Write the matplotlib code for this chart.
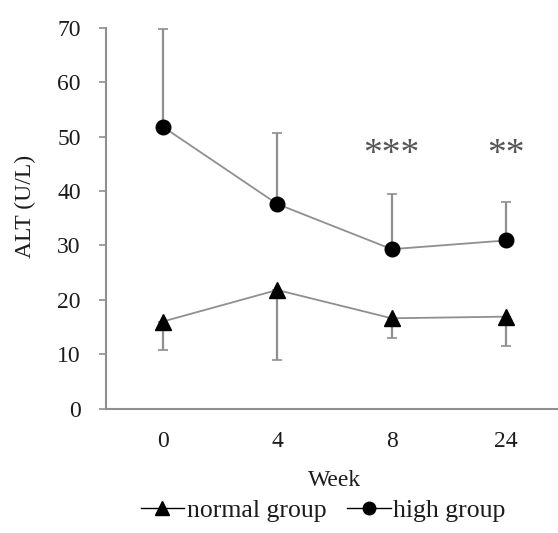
import matplotlib
matplotlib.use("Agg")
import matplotlib.pyplot as plt
from matplotlib.lines import Line2D

weeks = ["0", "4", "8", "24"]
normal_mean = [16.0, 21.8, 16.6, 16.9]
normal_lower = [10.8, 8.9, 12.9, 11.5]
high_mean = [51.8, 37.6, 29.3, 30.9]
high_upper = [69.7, 50.6, 39.4, 38.0]
sig_labels = ["", "", "***", "**"]
sig_y = 46.6

plt.rcParams['font.family'] = ['Liberation Serif', 'DejaVu Serif']
txt = '#1c1c1c'
gray = '#8f8f8f'

fig = plt.figure(figsize=(5.58, 5.33), dpi=100)
ax = fig.add_axes([0.1894, 0.2334, 0.82, 0.7146])
x = list(range(len(weeks)))

# error bars (one-sided)
n_err = [[m - l for m, l in zip(normal_mean, normal_lower)], [0] * len(x)]
h_err = [[0] * len(x), [u - m for m, u in zip(high_mean, high_upper)]]
ax.errorbar(x, normal_mean, yerr=n_err, fmt='none', ecolor=gray, elinewidth=1.6,
            capsize=3.5, capthick=1.2, zorder=2)
ax.errorbar(x, high_mean, yerr=h_err, fmt='none', ecolor=gray, elinewidth=1.6,
            capsize=3.5, capthick=1.2, zorder=2)

ax.plot(x, normal_mean, color=gray, lw=1.3, zorder=3)
ax.plot(x, normal_mean, ls='none', marker='^', ms=12, color='black', zorder=4)
ax.plot(x, high_mean, color=gray, lw=1.3, zorder=3)
ax.plot(x, high_mean, ls='none', marker='o', ms=10.5, color='black', zorder=4)

for xi, s in zip(x, sig_labels):
    if s:
        ax.text(xi, sig_y, s, ha='center', va='center', fontsize=27,
                color='#555555')

ax.set_xlim(-0.5, 3.5)
ax.set_ylim(0, 70)
ax.set_yticks(range(0, 71, 10))
ax.set_xticks(x)
ax.set_xticklabels(weeks)
for sp in ['top', 'right']:
    ax.spines[sp].set_visible(False)
for sp in ['left', 'bottom']:
    ax.spines[sp].set_color(gray)
    ax.spines[sp].set_linewidth(1.5)
ax.tick_params(axis='y', direction='out', length=5, width=1.2, color=gray,
               labelsize=17, labelcolor=txt, pad=13)
ax.tick_params(axis='x', length=0, labelsize=17, labelcolor=txt, pad=16)
ax.set_xlabel("Week", fontsize=17, color=txt, va='center')
ax.set_ylabel("ALT (U/L)", fontsize=17, color=txt, va='center')
ax.xaxis.set_label_coords(0.5, -0.1875)
ax.yaxis.set_label_coords(-0.176, 0.53)

handles = [
    Line2D([], [], color='black', marker='^', ms=10, lw=1.0),
    Line2D([], [], color='black', marker='o', ms=9, lw=1.0),
]
fig.legend(handles, ["normal group", "high group"], loc='center',
           bbox_to_anchor=(0.579, 0.043), ncol=2, frameon=False, fontsize=18.5,
           handlelength=1.7, handletextpad=0.1, columnspacing=0.8,
           labelcolor=txt)

fig.savefig("out.png", dpi=100)
